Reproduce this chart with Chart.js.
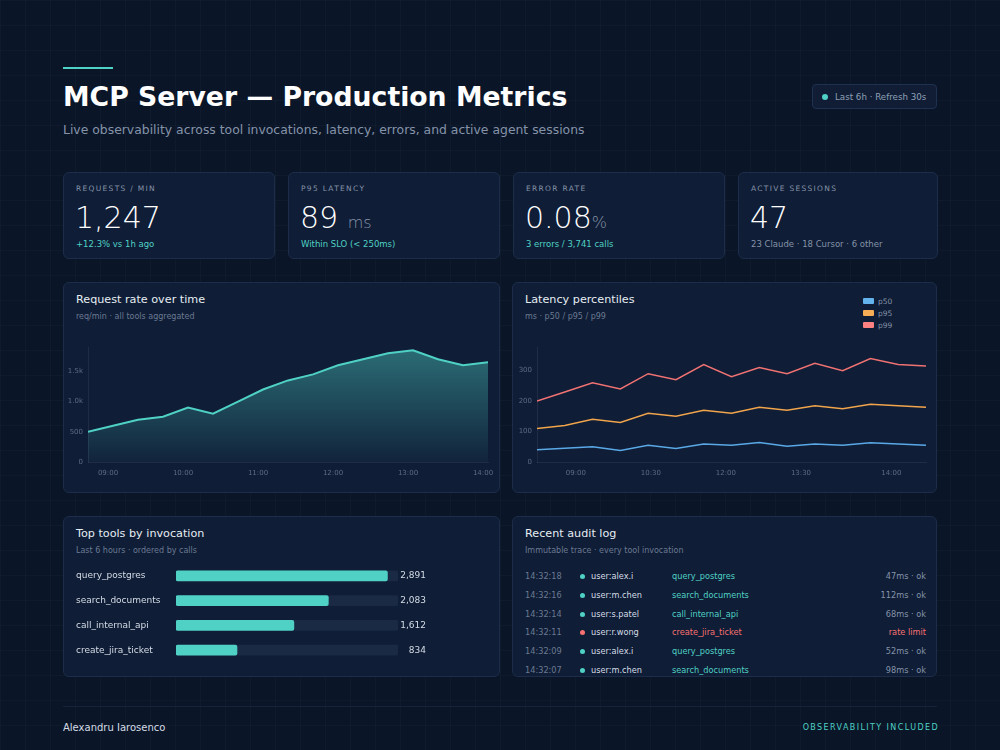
<!DOCTYPE html>
<html>
<head>
<meta charset="utf-8">
<script src="https://cdn.jsdelivr.net/npm/chart.js@4.4.1/dist/chart.umd.min.js"></script>
<style>
  * { box-sizing: border-box; margin: 0; padding: 0; }
  html, body { width: 1000px; height: 750px; overflow: hidden; }
  body {
    background-color: #0a1628;
    background-image:
      linear-gradient(rgba(255,255,255,0.018) 1px, transparent 1px),
      linear-gradient(90deg, rgba(255,255,255,0.018) 1px, transparent 1px);
    background-size: 25px 25px;
    font-family: "DejaVu Sans", sans-serif;
    color: #e6edf3;
    position: relative;
  }
  .accent { position: absolute; left: 63px; top: 67px; width: 50px; height: 2px; background: #4fd1c5; }
  h1 { position: absolute; left: 63px; top: 81px; font-size: 26.7px; font-weight: 700; color: #fff; white-space: nowrap; }
  .subtitle { position: absolute; left: 63px; top: 122px; font-size: 12.4px; color: #8593a8; white-space: nowrap; }
  .badge {
    position: absolute; left: 812px; top: 84px; width: 125px; height: 25px;
    border: 1px solid #1f3150; background: #101d35; border-radius: 4px;
    font-size: 8.7px; color: #8fa0b6; display: flex; align-items: center; padding-left: 9px;
  }
  .badge .dot { width: 6px; height: 6px; border-radius: 50%; background: #4fd1c5; margin-right: 7px; }

  .card { position: absolute; background: #0f1d36; border: 1px solid #1d2d49; border-radius: 6px; }
  .kpi .label { position: absolute; left: 12px; top: 11px; font-size: 7.5px; letter-spacing: 1.3px; color: #8593a8; }
  .kpi .value { position: absolute; left: 11px; top: 27px; font-size: 30px; font-weight: 300; color: #fff; white-space: nowrap; }
  .kpi .value .unit { font-size: 16px; color: #8593a8; }
  .kpi .sub { position: absolute; left: 12px; top: 66px; font-size: 8.5px; color: #4fd1c5; white-space: nowrap; }
  .kpi .sub.muted { color: #8593a8; }

  .card .title { position: absolute; left: 12px; top: 10px; font-size: 11.2px; color: #e6edf3; white-space: nowrap; }
  .card .desc { position: absolute; left: 12px; top: 29px; font-size: 8px; color: #6b7a92; white-space: nowrap; }
  .chart-box { position: absolute; }

  .legend { position: absolute; left: 350px; top: 12px; font-size: 7.5px; color: #8593a8; }
  .legend div { display: flex; align-items: center; height: 12px; }
  .legend span.sw { width: 11px; height: 6px; border-radius: 1px; margin-right: 4px; display: inline-block; }

  .audit { position: absolute; left: 12px; top: 50px; width: 401px; font-size: 8.2px; }
  .audit .row { position: relative; height: 18.8px; line-height: 18.8px; }
  .audit .t { position: absolute; left: 0; color: #6b7a92; }
  .audit .d { position: absolute; left: 55px; top: 7px; width: 5px; height: 5px; border-radius: 50%; }
  .audit .u { position: absolute; left: 66px; color: #d5dce6; }
  .audit .k { position: absolute; left: 147px; }
  .audit .s { position: absolute; right: 0; color: #8593a8; }

  .footline { position: absolute; left: 63px; top: 706px; width: 874px; height: 1px; background: #15233b; }
  .foot-l { position: absolute; left: 63px; top: 722px; font-size: 10px; color: #d5dce6; }
  .foot-r { position: absolute; right: 61px; top: 723px; font-size: 8px; letter-spacing: 1.4px; color: #4fd1c5; }
</style>
</head>
<body>
  <div class="accent"></div>
  <h1>MCP Server — Production Metrics</h1>
  <div class="subtitle">Live observability across tool invocations, latency, errors, and active agent sessions</div>
  <div class="badge"><span class="dot"></span>Last 6h · Refresh 30s</div>

  <!-- KPI 카드 -->
  <div class="card kpi" style="left:63px; top:172px; width:212px; height:87px;">
    <div class="label">REQUESTS / MIN</div>
    <div class="value">1,247</div>
    <div class="sub">+12.3% vs 1h ago</div>
  </div>
  <div class="card kpi" style="left:288px; top:172px; width:212px; height:87px;">
    <div class="label">P95 LATENCY</div>
    <div class="value">89 <span class="unit">ms</span></div>
    <div class="sub">Within SLO (&lt; 250ms)</div>
  </div>
  <div class="card kpi" style="left:513px; top:172px; width:212px; height:87px;">
    <div class="label">ERROR RATE</div>
    <div class="value">0.08<span class="unit">%</span></div>
    <div class="sub">3 errors / 3,741 calls</div>
  </div>
  <div class="card kpi" style="left:738px; top:172px; width:200px; height:87px;">
    <div class="label">ACTIVE SESSIONS</div>
    <div class="value">47</div>
    <div class="sub muted">23 Claude · 18 Cursor · 6 other</div>
  </div>

  <!-- 차트 카드 -->
  <div class="card" style="left:63px; top:282px; width:437px; height:211px;">
    <div class="title">Request rate over time</div>
    <div class="desc">req/min · all tools aggregated</div>
    <div class="chart-box" style="left:0; top:55px; width:435px; height:142px;"><canvas id="chart-rate"></canvas></div>
  </div>
  <div class="card" style="left:512px; top:282px; width:425px; height:211px;">
    <div class="title">Latency percentiles</div>
    <div class="desc">ms · p50 / p95 / p99</div>
    <div class="legend" id="latency-legend"></div>
    <div class="chart-box" style="left:0; top:55px; width:423px; height:142px;"><canvas id="chart-latency"></canvas></div>
  </div>

  <div class="card" style="left:63px; top:516px; width:437px; height:161px;">
    <div class="title">Top tools by invocation</div>
    <div class="desc">Last 6 hours · ordered by calls</div>
    <div class="chart-box" style="left:12px; top:41px; width:350px; height:110px;"><canvas id="chart-tools"></canvas></div>
  </div>
  <div class="card" style="left:512px; top:516px; width:425px; height:161px;">
    <div class="title">Recent audit log</div>
    <div class="desc">Immutable trace · every tool invocation</div>
    <div class="audit" id="audit"></div>
  </div>

  <div class="footline"></div>
  <div class="foot-l">Alexandru Iarosenco</div>
  <div class="foot-r">OBSERVABILITY INCLUDED</div>

<script>
// === 요청량 (req/min, 20분 간격) ===
const rateValues = [500, 600, 700, 750, 900, 800, 1000, 1200, 1350, 1450, 1600, 1700, 1800, 1850, 1700, 1600, 1650];
const rateTickAt = [0.8, 3.8, 6.8, 9.8, 12.8, 15.8];
const rateTickLabels = ['09:00', '10:00', '11:00', '12:00', '13:00', '14:00'];
const rateYTicks = [0, 500, 1000, 1500];

// === 지연시간 백분위 (ms) ===
const p50 = [40, 45, 50, 38, 55, 44, 59, 55, 64, 52, 59, 55, 63, 59, 55];
const p95 = [110, 120, 140, 130, 160, 150, 170, 160, 180, 170, 185, 175, 190, 185, 180];
const p99 = [200, 230, 260, 240, 290, 270, 320, 280, 310, 290, 324, 300, 340, 320, 315];
const latencyTickAt = [1.4, 4.1, 6.8, 9.5, 12.75];
const latencyTickLabels = ['09:00', '10:30', '12:00', '13:30', '14:00'];
const latencyYTicks = [0, 100, 200, 300];

// === 도구별 호출 수 ===
const toolNames = ['query_postgres', 'search_documents', 'call_internal_api', 'create_jira_ticket'];
const toolCalls = [2891, 2083, 1612, 834];

// === 감사 로그 ===
const auditTimes = ['14:32:18', '14:32:16', '14:32:14', '14:32:11', '14:32:09', '14:32:07'];
const auditUsers = ['user:alex.i', 'user:m.chen', 'user:s.patel', 'user:r.wong', 'user:alex.i', 'user:m.chen'];
const auditTools = ['query_postgres', 'search_documents', 'call_internal_api', 'create_jira_ticket', 'query_postgres', 'search_documents'];
const auditStatus = ['47ms · ok', '112ms · ok', '68ms · ok', 'rate limit', '52ms · ok', '98ms · ok'];

const TEAL = '#4fd1c5';
const RED = '#f87171';
const TICK = '#5d6c84';
const AXIS = 'rgba(255,255,255,0.07)';

Chart.defaults.font.family = 'DejaVu Sans';
Chart.defaults.animation = false;

// 눈금 위치를 배열 그대로 고정
function fixedAxis(at, labels, fmt, pad) {
  return {
    afterBuildTicks: (axis) => { axis.ticks = at.map(v => ({ value: v })); },
    ticks: {
      color: TICK, font: { size: 7 }, padding: pad, autoSkip: false, maxRotation: 0,
      callback: labels ? (v, i) => labels[i] : fmt,
    },
    grid: { display: false, drawTicks: false },
    border: { color: AXIS },
  };
}

const kFmt = (v) => v >= 1000 ? (v / 1000).toFixed(1) + 'k' : v;

// x축 높이 고정 + 마지막 라벨 때문에 생기는 여백 제거
const xFit = (axis) => { axis.height = 18; axis.paddingLeft = 0; axis.paddingRight = 0; };

// 요청량 면적 차트
new Chart(document.getElementById('chart-rate'), {
  type: 'line',
  data: {
    datasets: [{
      data: rateValues.map((v, i) => ({ x: i, y: v })),
      borderColor: TEAL,
      borderWidth: 2,
      pointRadius: 0,
      tension: 0,
      fill: 'origin',
      backgroundColor: (ctx) => {
        const area = ctx.chart.chartArea;
        if (!area) return 'rgba(79,209,197,0.3)';
        const g = ctx.chart.ctx.createLinearGradient(0, area.top, 0, area.bottom);
        g.addColorStop(0, 'rgba(79,209,197,0.45)');
        g.addColorStop(1, 'rgba(79,209,197,0.04)');
        return g;
      },
    }],
  },
  options: {
    responsive: true,
    maintainAspectRatio: false,
    layout: { padding: { top: 6, right: 11 } },
    plugins: { legend: { display: false }, tooltip: { enabled: false } },
    scales: {
      x: {
        type: 'linear', min: 0, max: rateValues.length - 1,
        ...fixedAxis(rateTickAt, rateTickLabels, null, 7),
        afterFit: xFit,
      },
      y: {
        min: 0, max: 1900,
        ...fixedAxis(rateYTicks, null, kFmt, 5),
        afterFit: (axis) => { axis.width = 24; },
      },
    },
  },
});

// 지연시간 라인 차트
const latencyChart = new Chart(document.getElementById('chart-latency'), {
  type: 'line',
  data: {
    datasets: [
      { label: 'p50', data: p50.map((v, i) => ({ x: i, y: v })), borderColor: '#5aa9e6', backgroundColor: '#63b3ed' },
      { label: 'p95', data: p95.map((v, i) => ({ x: i, y: v })), borderColor: '#f0a44b', backgroundColor: '#f6ad55' },
      { label: 'p99', data: p99.map((v, i) => ({ x: i, y: v })), borderColor: '#f07272', backgroundColor: '#fc8181' },
    ].map(d => ({ ...d, borderWidth: 1.5, pointRadius: 0, tension: 0, fill: false })),
  },
  options: {
    responsive: true,
    maintainAspectRatio: false,
    layout: { padding: { top: 6, right: 10 } },
    plugins: { legend: { display: false }, tooltip: { enabled: false } },
    scales: {
      x: {
        type: 'linear', min: 0, max: p50.length - 1,
        ...fixedAxis(latencyTickAt, latencyTickLabels, null, 7),
        afterFit: xFit,
      },
      y: {
        min: 0, max: 377,
        ...fixedAxis(latencyYTicks, null, (v) => v, 5),
        afterFit: (axis) => { axis.width = 24; },
      },
    },
  },
});

// 범례 (세로 배치, 우측 상단)
document.getElementById('latency-legend').innerHTML = latencyChart.data.datasets
  .map(d => `<div><span class="sw" style="background:${d.backgroundColor}"></span>${d.label}</div>`).join('');

// 도구별 가로 막대
const toolMax = Math.max(...toolCalls) * 1.05;
new Chart(document.getElementById('chart-tools'), {
  type: 'bar',
  data: {
    labels: toolNames,
    datasets: [
      { data: toolCalls, backgroundColor: TEAL, order: 1 },
      { data: toolCalls.map(() => toolMax), backgroundColor: '#1a2944', order: 2 },
    ].map(d => ({ ...d, barThickness: 10, borderRadius: 2, borderSkipped: false, grouped: false })),
  },
  options: {
    indexAxis: 'y',
    responsive: true,
    maintainAspectRatio: false,
    plugins: { legend: { display: false }, tooltip: { enabled: false } },
    scales: {
      x: { display: false, min: 0, max: toolMax },
      y: {
        grid: { display: false }, border: { display: false },
        ticks: { color: '#d5dce6', font: { size: 9 }, crossAlign: 'far', padding: 0 },
        afterFit: (axis) => { axis.width = 100; },
      },
      y2: {
        type: 'category', position: 'right',
        labels: toolCalls.map(v => v.toLocaleString('en-US')),
        grid: { display: false }, border: { display: false },
        ticks: { color: '#d5dce6', font: { size: 9 }, crossAlign: 'far', padding: 0 },
        afterFit: (axis) => { axis.width = 28; },
      },
    },
  },
});

// 감사 로그
document.getElementById('audit').innerHTML = auditTimes.map((t, i) => {
  const bad = auditStatus[i] === 'rate limit';
  return `<div class="row">
    <span class="t">${t}</span>
    <span class="d" style="background:${bad ? RED : TEAL}"></span>
    <span class="u">${auditUsers[i]}</span>
    <span class="k" style="color:${bad ? RED : TEAL}">${auditTools[i]}</span>
    <span class="s" style="${bad ? 'color:' + RED : ''}">${auditStatus[i]}</span>
  </div>`;
}).join('');
</script>
</body>
</html>
